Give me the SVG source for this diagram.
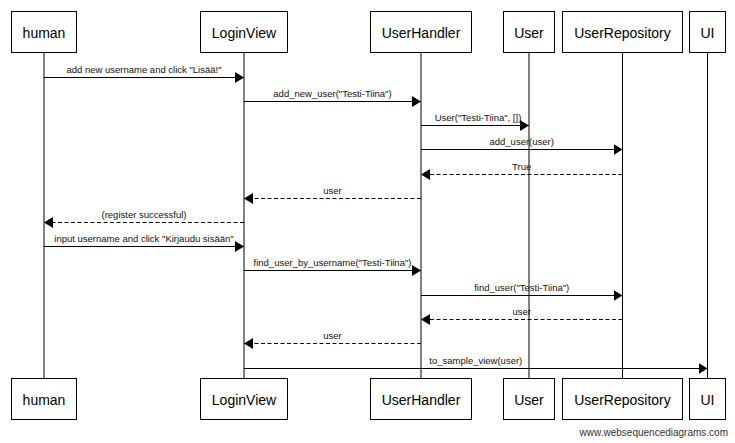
<svg xmlns="http://www.w3.org/2000/svg" width="735" height="443" viewBox="0 0 735 443">
<style>
.box{fill:#fff;stroke:#000;stroke-width:1}
.life{stroke:#000;stroke-width:1;fill:none}
.pt{font-family:"Liberation Sans",Arial,sans-serif;font-size:14px;fill:#000;text-anchor:middle}
.msg{stroke:#000;stroke-width:1;fill:none;marker-end:url(#ah)}
.ret{stroke:#000;stroke-width:1;fill:none;stroke-dasharray:4,2.5;marker-end:url(#ah)}
.ml{font-family:"Liberation Sans",Arial,sans-serif;font-size:9.5px;fill:#111;text-anchor:middle}
.wm{font-family:"Liberation Sans",Arial,sans-serif;font-size:10px;fill:#333;text-anchor:end}
</style>
<defs>
<marker id="ah" markerUnits="userSpaceOnUse" markerWidth="10" markerHeight="12" refX="9" refY="5.5" orient="auto">
<path d="M0,0 L9,5.5 L0,11 z" fill="#000"/>
</marker>
</defs>
<rect width="735" height="443" fill="#fff"/>
<g id="human">
<line class="life" x1="44" y1="52" x2="44" y2="378"/>
<rect class="box" x="11.5" y="11.5" width="65" height="41"/>
<text class="pt" x="44" y="37.5">human</text>
<rect class="box" x="11.5" y="378.5" width="65" height="41"/>
<text class="pt" x="44" y="404.5">human</text>
</g>
<g id="LoginView">
<line class="life" x1="244" y1="52" x2="244" y2="378"/>
<rect class="box" x="200.5" y="11.5" width="87" height="41"/>
<text class="pt" x="244" y="37.5">LoginView</text>
<rect class="box" x="200.5" y="378.5" width="87" height="41"/>
<text class="pt" x="244" y="404.5">LoginView</text>
</g>
<g id="UserHandler">
<line class="life" x1="421" y1="52" x2="421" y2="378"/>
<rect class="box" x="370.5" y="11.5" width="101" height="41"/>
<text class="pt" x="421" y="37.5">UserHandler</text>
<rect class="box" x="370.5" y="378.5" width="101" height="41"/>
<text class="pt" x="421" y="404.5">UserHandler</text>
</g>
<g id="User">
<line class="life" x1="529" y1="52" x2="529" y2="378"/>
<rect class="box" x="503.5" y="11.5" width="51" height="41"/>
<text class="pt" x="529" y="37.5">User</text>
<rect class="box" x="503.5" y="378.5" width="51" height="41"/>
<text class="pt" x="529" y="404.5">User</text>
</g>
<g id="UserRepository">
<line class="life" x1="622.5" y1="52" x2="622.5" y2="378"/>
<rect class="box" x="562.5" y="11.5" width="120" height="41"/>
<text class="pt" x="622.5" y="37.5">UserRepository</text>
<rect class="box" x="562.5" y="378.5" width="120" height="41"/>
<text class="pt" x="622.5" y="404.5">UserRepository</text>
</g>
<g id="UI">
<line class="life" x1="707.5" y1="52" x2="707.5" y2="378"/>
<rect class="box" x="689.5" y="11.5" width="36" height="41"/>
<text class="pt" x="707.5" y="37.5">UI</text>
<rect class="box" x="689.5" y="378.5" width="36" height="41"/>
<text class="pt" x="707.5" y="404.5">UI</text>
</g>
<g id="connectors">
<line class="msg" x1="44" y1="77.5" x2="244" y2="77.5"/>
<text class="ml" x="144" y="73">add new username and click "Lisää!"</text>
<line class="msg" x1="244" y1="101.5" x2="421" y2="101.5"/>
<text class="ml" x="332.5" y="97">add_new_user("Testi-Tiina")</text>
<line class="msg" x1="421" y1="125.5" x2="529" y2="125.5"/>
<text class="ml" x="478" y="121">User("Testi-Tiina", [])</text>
<line class="msg" x1="421" y1="149.5" x2="622.5" y2="149.5"/>
<text class="ml" x="521.7" y="145">add_user(user)</text>
<line class="ret" x1="622.5" y1="174.5" x2="421" y2="174.5"/>
<text class="ml" x="521.7" y="170">True</text>
<line class="ret" x1="421" y1="198.5" x2="244" y2="198.5"/>
<text class="ml" x="332.5" y="194">user</text>
<line class="ret" x1="244" y1="222.5" x2="44" y2="222.5"/>
<text class="ml" x="144" y="218">(register successful)</text>
<line class="msg" x1="44" y1="246.5" x2="244" y2="246.5"/>
<text class="ml" x="144" y="242">input username and click "Kirjaudu sisään"</text>
<line class="msg" x1="244" y1="270.5" x2="421" y2="270.5"/>
<text class="ml" x="332.5" y="266">find_user_by_username("Testi-Tiina")</text>
<line class="msg" x1="421" y1="295.5" x2="622.5" y2="295.5"/>
<text class="ml" x="521.7" y="291">find_user("Testi-Tiina")</text>
<line class="ret" x1="622.5" y1="319.5" x2="421" y2="319.5"/>
<text class="ml" x="521.7" y="315">user</text>
<line class="ret" x1="421" y1="343.5" x2="244" y2="343.5"/>
<text class="ml" x="332.5" y="339">user</text>
<line class="msg" x1="244" y1="368.5" x2="707.5" y2="368.5"/>
<text class="ml" x="475.8" y="364">to_sample_view(user)</text>
</g>
<text class="wm" x="728" y="436">www.websequencediagrams.com</text>
</svg>
